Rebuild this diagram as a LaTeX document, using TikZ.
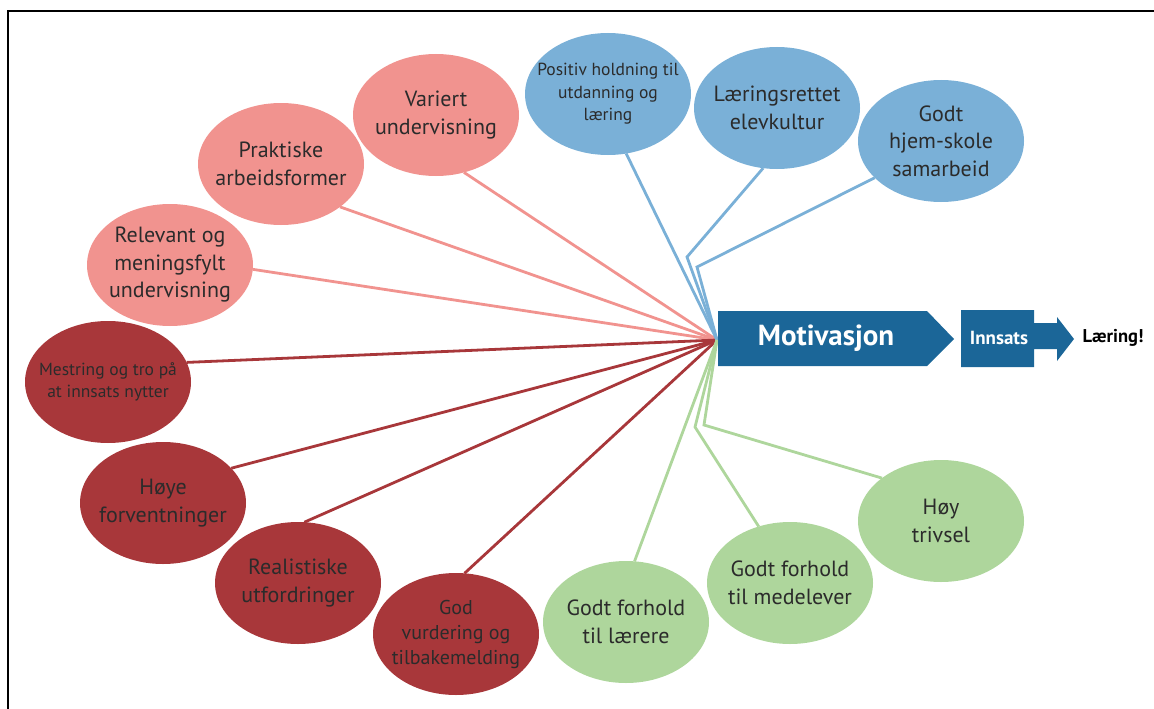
\documentclass[tikz,border=0pt]{standalone}
\usepackage{fontspec}
\setmainfont{PT Sans}
\usetikzlibrary{shapes.geometric}

\definecolor{rosa}{HTML}{F1938F}
\definecolor{morkrod}{HTML}{A8373A}
\definecolor{lysbla}{HTML}{7AB0D7}
\definecolor{lysgronn}{HTML}{AED69C}
\definecolor{marine}{HTML}{1B6698}
\definecolor{tekst}{HTML}{2B2B2B}

\begin{document}
\begin{tikzpicture}[x=1pt, y=-1pt,
    bubble/.style={ellipse, minimum width=166pt, minimum height=122pt, inner sep=-25pt, outer sep=0pt,
                   align=center, text=tekst, font=\fontsize{22}{27.5}\selectfont},
    smalltext/.style={font=\fontsize{17.5}{22.5}\selectfont},
    link/.style={line width=2.8pt}]

    \useasboundingbox (0,0) rectangle (1154,709);

    % Frame (top and left only)
    \draw[line width=1.4pt] (8,709) -- (8,11) -- (1154,11);

    % Hub where all links meet
    \coordinate (hub) at (717,340);

    % ---- Pink bubbles ----
    \node[bubble, fill=rosa] (variert) at (436,115) {Variert\\undervisning};
    \node[bubble, fill=rosa] (praktisk) at (281,164) {Praktiske\\arbeidsformer};
    \node[bubble, fill=rosa] (relevant) at (170,265) {Relevant og\\meningsfylt\\undervisning};

    % ---- Dark red bubbles ----
    \node[bubble, smalltext, fill=morkrod] (mestring) at (108,382) {Mestring og tro på\\at innsats nytter};
    \node[bubble, fill=morkrod] (hoye) at (163,503) {Høye\\forventninger};
    \node[bubble, fill=morkrod] (realist) at (298,583) {Realistiske\\utfordringer};
    \node[bubble, fill=morkrod, font=\fontsize{20}{25}\selectfont] (vurdering) at (456,634) {God\\vurdering og\\tilbakemelding};

    % ---- Blue bubbles ----
    \node[bubble, smalltext, fill=lysbla] (positiv) at (608,94) {Positiv holdning til\\utdanning og\\læring};
    \node[bubble, fill=lysbla] (kultur) at (777,108) {Læringsrettet\\elevkultur};
    \node[bubble, fill=lysbla] (hjem) at (941,141) {Godt\\hjem-skole\\samarbeid};

    % ---- Green bubbles ----
    \node[bubble, fill=lysgronn] (laerere) at (626,622) {Godt forhold\\til lærere};
    \node[bubble, fill=lysgronn] (medelever) at (790,583) {Godt forhold\\til medelever};
    \node[bubble, fill=lysgronn] (trivsel) at (941,521) {Høy\\trivsel};

    % Links from the hub
    \draw[link, rosa] (hub) -- (variert.-64);
    \draw[link, rosa] (hub) -- (praktisk.-36);
    \draw[link, rosa] (hub) -- (relevant.-3);

    \draw[link, morkrod] (hub) -- (mestring.14);
    \draw[link, morkrod] (hub) -- (hoye.27);
    \draw[link, morkrod] (hub) -- (realist.84);
    \draw[link, morkrod] (hub) -- (vurdering.82);

    \coordinate (kb1) at (687,257);
    \coordinate (kb2) at (697,267);
    \draw[link, lysbla] (hub) -- (positiv.-73);
    \draw[link, lysbla] (hub) -- (kb1) -- (kultur.-103);
    \draw[link, lysbla] (hub) -- (kb2) -- (hjem.-151);

    \coordinate (kg1) at (695,427);
    \coordinate (kg2) at (704,425);
    \draw[link, lysgronn] (hub) -- (laerere.82);
    \draw[link, lysgronn] (hub) -- (kg1) -- (medelever.119);
    \draw[link, lysgronn] (hub) -- (kg2) -- (trivsel.144);

    % Motivasjon -> Innsats -> Laering
    \fill[marine] (718,311) -- (927,311) -- (954,339) -- (927,366) -- (718,366) -- cycle;
    \node[text=white, font=\fontsize{29}{34}\selectfont\bfseries] (motiv) at (826,338) {Motivasjon};

    \fill[marine] (961,310) -- (1034,310) -- (1034,323) -- (1057,323) -- (1057,317) -- (1074,339)
        -- (1057,361) -- (1057,349) -- (1034,349) -- (1034,367) -- (961,367) -- cycle;
    \node[text=white, font=\fontsize{19}{22}\selectfont\bfseries] (innsats) at (999,338) {Innsats};

    \node[text=black, font=\fontsize{18.5}{22}\selectfont\bfseries] (laering) at (1113,338) {Læring!};

\end{tikzpicture}
\end{document}
